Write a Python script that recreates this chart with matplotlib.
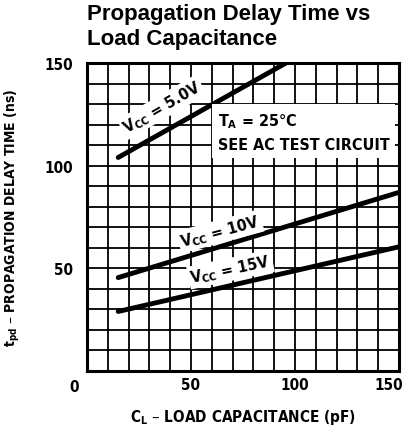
import matplotlib
matplotlib.use("Agg")
import matplotlib.pyplot as plt
import matplotlib.transforms as mtransforms

# --- data ---
load_cap = [15, 150]                 # C_L (pF)
delay_5v = [104, 181]                # Vcc = 5.0V (clipped at top of chart)
delay_10v = [45.5, 87]               # Vcc = 10V
delay_15v = [29, 60.5]               # Vcc = 15V
x_ticks = [50, 100, 150]
y_ticks = [50, 100, 150]

cond = dict(family="DejaVu Sans", fontstretch="condensed", fontweight="bold")

fig = plt.figure(figsize=(4.11, 4.35), dpi=100)
ax = fig.add_axes([0.2117, 0.1448, 0.759, 0.708])

ax.set_xlim(0, 150)
ax.set_ylim(0, 150)

ax.set_xticks(x_ticks)
ax.set_yticks(y_ticks)
# grid: 15 x 15 cells
ax.set_xticks(range(0, 151, 10), minor=True)
ax.set_yticks(range(0, 151, 10), minor=True)
ax.grid(which="both", color="black", linewidth=1.3)
ax.tick_params(which="both", length=0)
ax.set_axisbelow(True)
for s in ax.spines.values():
    s.set_linewidth(2.2)

ax.set_xticklabels([str(v) for v in x_ticks], fontsize=11, **cond)
ax.set_yticklabels([str(v) for v in y_ticks], fontsize=11, **cond)
ax.tick_params(axis="x", pad=4)
ax.tick_params(axis="y", pad=10)
# the last x label sits a little inside the frame edge, as in the original
last = ax.get_xticklabels()[-1]
last.set_transform(last.get_transform() +
                   mtransforms.ScaledTranslation(-7 / 72, 0, fig.dpi_scale_trans))
ax.text(-0.04, -0.025, "0", transform=ax.transAxes, ha="center", va="top",
        fontsize=11, **cond)

for vals in (delay_5v, delay_10v, delay_15v):
    ax.plot(load_cap, vals, color="black", linewidth=3.5, solid_capstyle="round")

box = dict(facecolor="white", edgecolor="none", pad=1.5)
ax.text(36, 128.5, r"V$_{\mathregular{CC}}$ = 5.0V", rotation=30, ha="center",
        va="center", fontsize=11.5, bbox=box, **cond)
ax.text(64, 68, r"V$_{\mathregular{CC}}$ = 10V", rotation=15, ha="center",
        va="center", fontsize=11.5, bbox=box, **cond)
ax.text(69, 49.5, r"V$_{\mathregular{CC}}$ = 15V", rotation=12, ha="center",
        va="center", fontsize=11.5, bbox=box, **cond)

ax.text(63, 116.5, "T$_{\\mathregular{A}}$ = 25°C\nSEE AC TEST CIRCUIT", ha="left",
        va="center", fontsize=11.5, linespacing=1.6,
        bbox=dict(facecolor="white", edgecolor="none", pad=4), **cond)

ax.set_xlabel(r"C$_{\mathregular{L}}$ – LOAD CAPACITANCE (pF)", fontsize=11,
              labelpad=11, **cond)
ax.set_ylabel(r"t$_{\mathregular{pd}}$ – PROPAGATION DELAY TIME (ns)", fontsize=10,
              labelpad=16, **cond)

fig.text(0.2117, 0.99, "Propagation Delay Time vs\nLoad Capacitance", ha="left",
         va="top", fontsize=16, fontweight="bold", family="Liberation Sans",
         linespacing=1.2)

fig.savefig("out.png", dpi=100)
